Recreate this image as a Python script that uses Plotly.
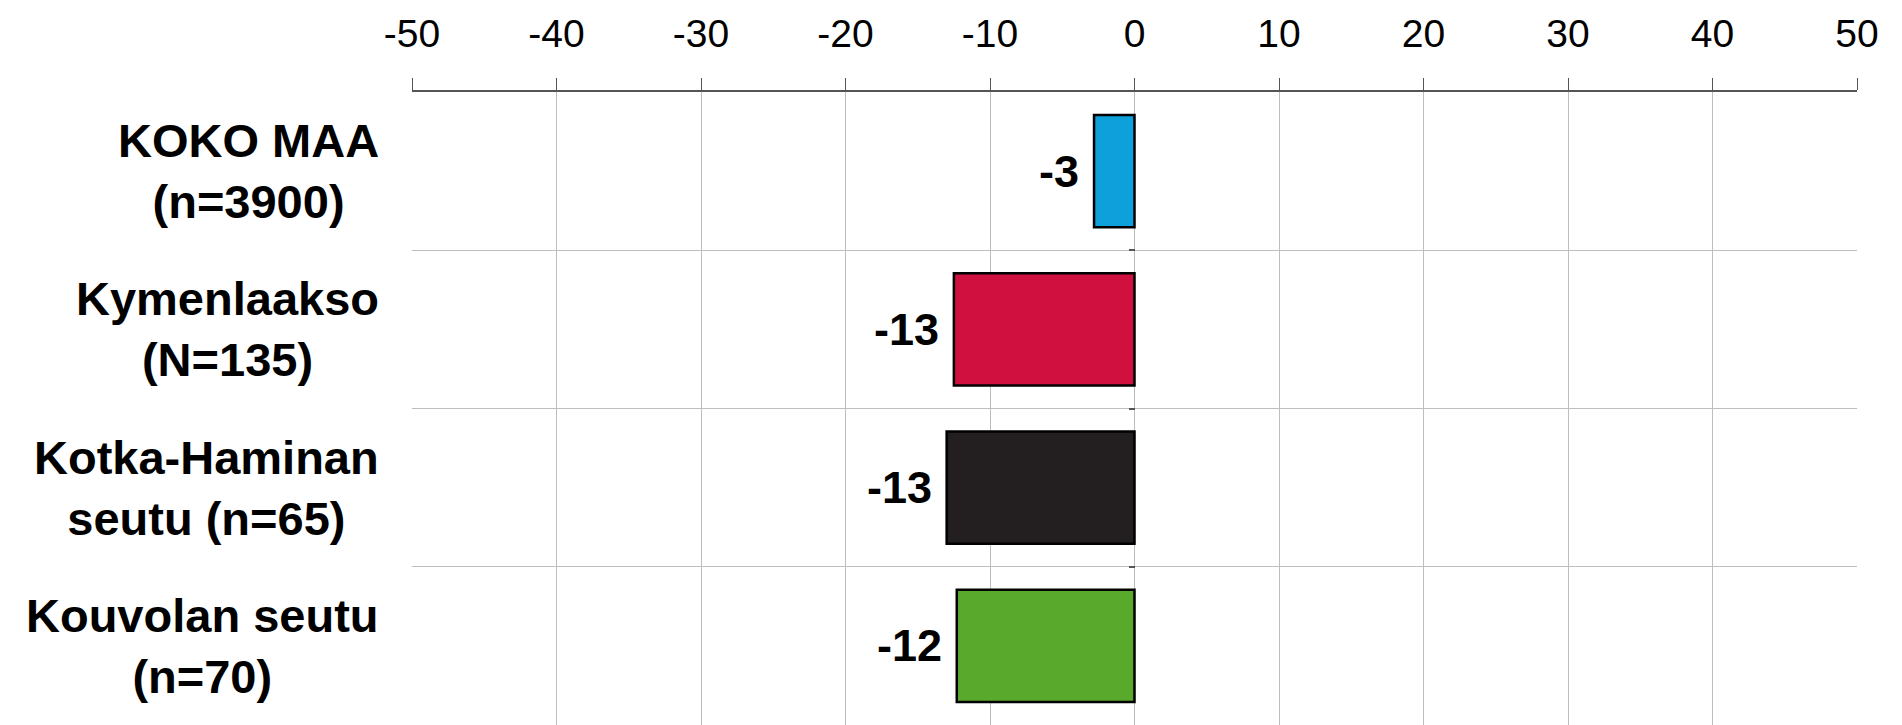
import plotly.graph_objects as go

categories = ["KOKO MAA<br>(n=3900)", "Kymenlaakso<br>(N=135)", "Kotka-Haminan<br>seutu (n=65)", "Kouvolan seutu<br>(n=70)"]
values = [-2.8, -12.5, -13.0, -12.3]
value_labels = ["-3", "-13", "-13", "-12"]
colors = ["#0DA0DA", "#D0103F", "#231F20", "#58A92C"]
x_ticks = [-50, -40, -30, -20, -10, 0, 10, 20, 30, 40, 50]

FONT = "Liberation Sans Narrow, Arial Narrow, Liberation Sans, Arial, sans-serif"
positions = list(range(len(categories)))
boundaries = [p + 0.5 for p in positions[:-1]]

fig = go.Figure()
fig.add_trace(go.Bar(
    y=positions, x=values, orientation="h",
    marker=dict(color=colors, line=dict(color="#000000", width=2.5)),
    width=0.71, hoverinfo="skip",
))
# invisible trace for the zero-line tick axis
fig.add_trace(go.Scatter(x=[0], y=[0], yaxis="y2", mode="markers",
                         marker=dict(opacity=0), hoverinfo="skip"))

for p, v, t in zip(positions, values, value_labels):
    fig.add_annotation(x=v, y=p, text="<b>%s</b>" % t, showarrow=False,
                       xanchor="right", yanchor="middle", xshift=-13,
                       font=dict(family=FONT, size=45, color="#000000"))

for p, c in zip(positions, categories):
    fig.add_annotation(xref="paper", x=0, y=p, text="<b>%s</b>" % c, showarrow=False,
                       xanchor="right", yanchor="middle", xshift=-31, align="center",
                       font=dict(family=FONT, size=47, color="#000000"))

fig.update_layout(
    width=1902, height=725,
    margin=dict(l=404, r=53, t=84, b=8),
    paper_bgcolor="white", plot_bgcolor="white",
    showlegend=False,
)
fig.update_xaxes(
    side="top", range=[-50, 50], tickvals=x_ticks,
    ticktext=[str(v) for v in x_ticks],
    showgrid=True, gridcolor="#BDBDBD", gridwidth=1,
    zeroline=False, automargin=False,
    showline=True, linecolor="#555555", linewidth=1.5,
    ticks="outside", ticklen=12, tickcolor="#555555", tickwidth=1,
    tickfont=dict(family=FONT, size=39, color="#000000"),
    ticklabelstandoff=16,
)
fig.update_yaxes(
    range=[3.5, -0.5], tickvals=positions, showticklabels=False,
    showgrid=False, zeroline=False, showline=False, automargin=False,
    ticks="",
    minor=dict(tickvals=boundaries, showgrid=True, gridcolor="#BDBDBD", gridwidth=1, ticks=""),
)
fig.update_layout(yaxis2=dict(
    overlaying="y", anchor="free", position=0.5, side="left",
    range=[3.5, -0.5], tickvals=boundaries, showticklabels=False,
    ticks="outside", ticklen=6, tickcolor="#555555", tickwidth=1.5,
    showgrid=False, zeroline=False, showline=False, automargin=False,
))

fig.write_html("out.html")
